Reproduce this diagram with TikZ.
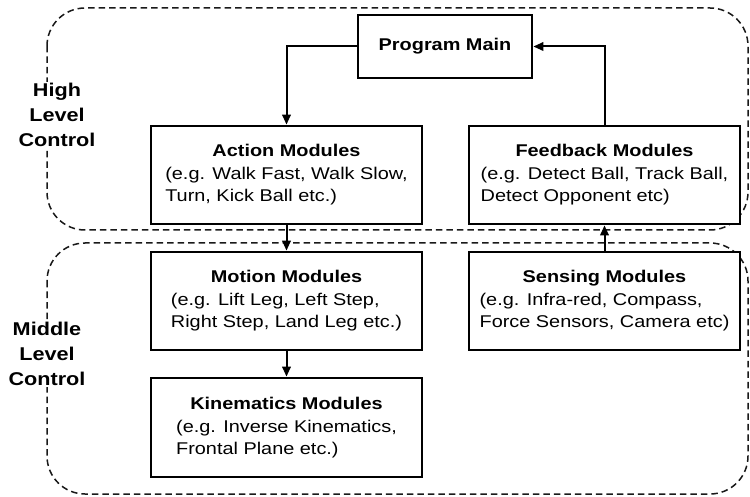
\documentclass[tikz,border=0pt]{standalone}
\usepackage{fontspec}
\setmainfont{Liberation Sans}[FakeStretch=1.17]
\usetikzlibrary{arrows.meta}

\tikzset{
  modbox/.style={draw=black, line width=2.8pt, fill=white, inner sep=0pt,
    minimum width=271pt, minimum height=98pt, font=\fontsize{17}{22.5}\selectfont},
  region/.style={draw=black!90, line width=1.5pt, dash pattern=on 6.5pt off 4pt,
    rounded corners=38pt},
  levellabel/.style={fill=white, inner sep=1pt, align=center,
    font=\fontsize{18.5}{25}\selectfont\bfseries},
  flow/.style={line width=2pt, -{Triangle[length=10pt,width=8.5pt]}},
}

% title centred above left-aligned description lines
\newcommand{\modtext}[3]{%
  \begin{tabular}{@{}l@{}}\multicolumn{1}{@{}c@{}}{\textbf{#1}}\\#2\\#3\end{tabular}}

\begin{document}
\begin{tikzpicture}[x=1pt, y=-1pt]
  \useasboundingbox (0,0) rectangle (750,497);

  % control-level regions
  \draw[region] (47,8) rectangle (748,230);
  \draw[region] (47,243) rectangle (748,494);

  \node[levellabel] (hlc) at (57,115) {High\\Level\\Control};
  \node[levellabel] (mlc) at (47,354) {Middle\\Level\\Control};

  % modules
  \node[modbox, minimum width=174pt, minimum height=63pt] (pm) at (445,46.5)
    {\textbf{Program Main}};
  \node[modbox] (act) at (286.5,175)
    {\modtext{Action Modules}{(e.g. Walk Fast, Walk Slow,}{Turn, Kick Ball etc.)}};
  \node[modbox] (fb) at (604.5,175)
    {\modtext{Feedback Modules}{(e.g. Detect Ball, Track Ball,}{Detect Opponent etc)}};
  \node[modbox] (mot) at (286.5,301)
    {\modtext{Motion Modules}{(e.g. Lift Leg, Left Step,}{Right Step, Land Leg etc.)}};
  \node[modbox] (sen) at (604.5,301)
    {\modtext{Sensing Modules}{(e.g. Infra-red, Compass,}{Force Sensors, Camera etc)}};
  \node[modbox, minimum height=99pt] (kin) at (286.5,427.5)
    {\modtext{Kinematics Modules}{(e.g. Inverse Kinematics,}{Frontal Plane etc.)}};

  % connectors
  \draw[flow] (pm.west) -| (act.north);
  \draw[flow] (fb.north) |- (pm.east);
  \draw[flow] (act.south) -- (mot.north);
  \draw[flow] (mot.south) -- (kin.north);
  \draw[flow] (sen.north) -- (fb.south);
\end{tikzpicture}
\end{document}
